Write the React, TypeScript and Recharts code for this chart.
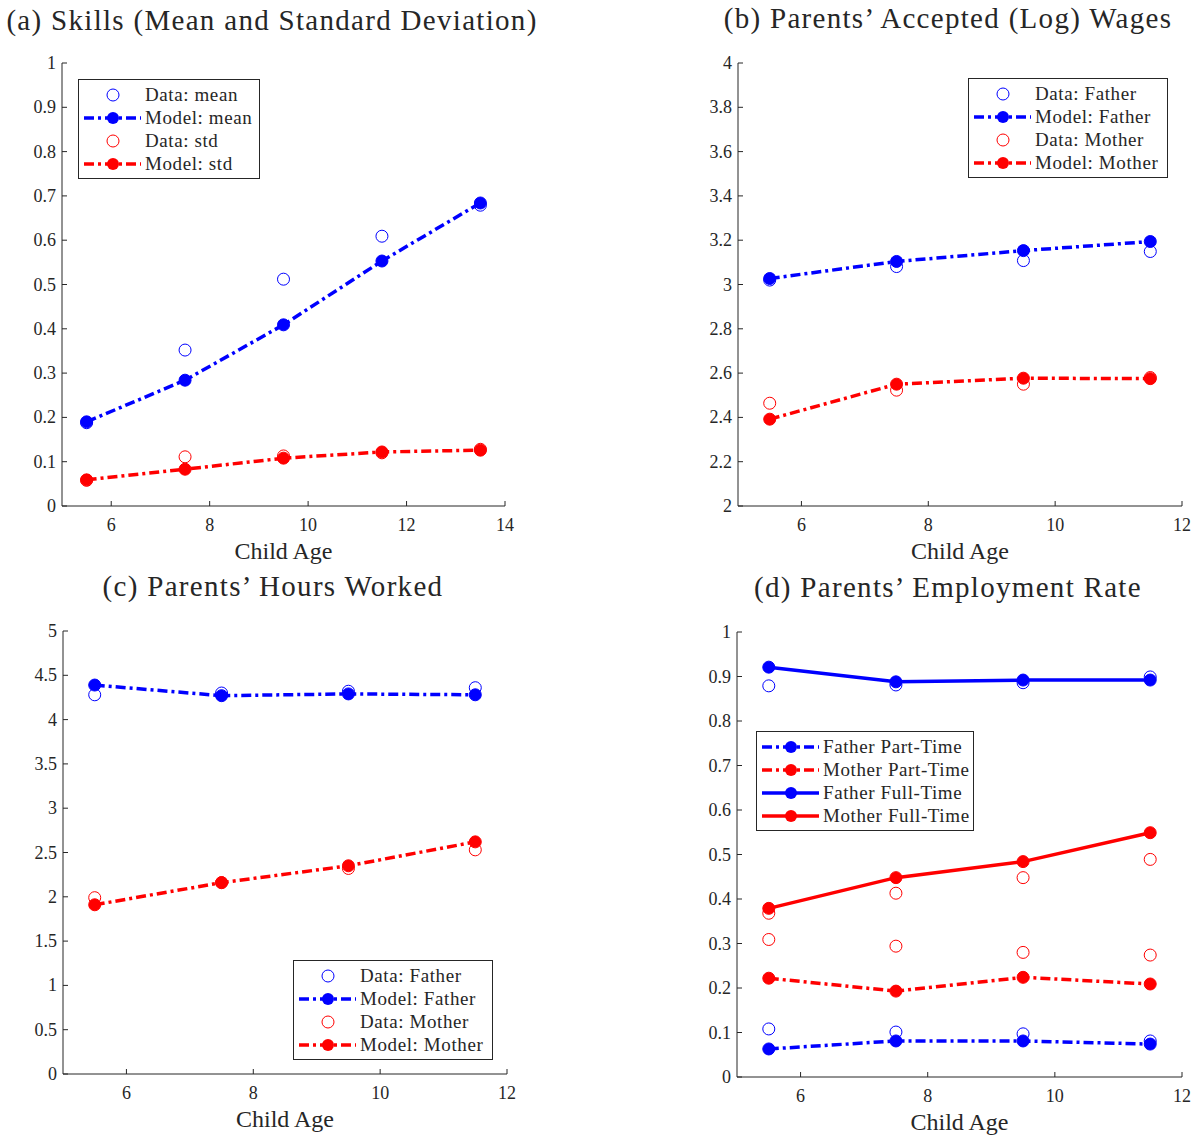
import React from "react";
import { LineChart, Line, XAxis, YAxis, Legend } from "recharts";

const FONT = "'Liberation Serif', 'Times New Roman', serif";
const AX = "#262626";
const BLUE = "#0000ff";
const RED = "#ff0000";
const DASHDOT = "10 4 3 4";

// (a) Skills
const agesA = [5.5, 7.5, 9.5, 11.5, 13.5];
const dataMeanA = [0.188, 0.352, 0.512, 0.609, 0.679];
const modelMeanA = [0.19, 0.284, 0.409, 0.553, 0.684];
const dataStdA = [0.058, 0.111, 0.113, 0.12, 0.128];
const modelStdA = [0.059, 0.083, 0.108, 0.122, 0.126];

// (b)-(d) share the child ages
const ages = [5.5, 7.5, 9.5, 11.5];

// (b) accepted log wages
const dataWageFather = [3.02, 3.081, 3.108, 3.149];
const modelWageFather = [3.027, 3.104, 3.153, 3.194];
const dataWageMother = [2.464, 2.523, 2.55, 2.58];
const modelWageMother = [2.392, 2.55, 2.577, 2.575];

// (c) hours worked
const dataHoursFather = [4.28, 4.3, 4.32, 4.36];
const modelHoursFather = [4.39, 4.27, 4.29, 4.28];
const dataHoursMother = [1.99, 2.16, 2.32, 2.53];
const modelHoursMother = [1.91, 2.16, 2.35, 2.62];

// (d) employment rates
const dataFatherPT = [0.108, 0.101, 0.097, 0.081];
const modelFatherPT = [0.063, 0.081, 0.081, 0.074];
const dataMotherPT = [0.309, 0.294, 0.28, 0.274];
const modelMotherPT = [0.222, 0.193, 0.224, 0.209];
const dataFatherFT = [0.879, 0.881, 0.886, 0.899];
const modelFatherFT = [0.921, 0.888, 0.892, 0.892];
const dataMotherFT = [0.368, 0.413, 0.448, 0.489];
const modelMotherFT = [0.379, 0.448, 0.484, 0.549];

const xTicksA = [6, 8, 10, 12, 14];
const xTicks = [6, 8, 10, 12];
const yTicksA = [0, 0.1, 0.2, 0.3, 0.4, 0.5, 0.6, 0.7, 0.8, 0.9, 1];
const yTicksB = [2, 2.2, 2.4, 2.6, 2.8, 3, 3.2, 3.4, 3.6, 3.8, 4];
const yTicksC = [0, 0.5, 1, 1.5, 2, 2.5, 3, 3.5, 4, 4.5, 5];
const yTicksD = [0, 0.1, 0.2, 0.3, 0.4, 0.5, 0.6, 0.7, 0.8, 0.9, 1];

type Series = { name: string; values: number[]; color: string; kind: "data" | "model"; dash?: string; legend?: boolean };

const LeftTick = (props: any) => {
  const { x, y, payload } = props;
  return (
    <g>
      <line x1={x} x2={x + 5} y1={y} y2={y} stroke={AX} />
      <text x={x - 6} y={y + 6} textAnchor="end" fontSize={18} fontFamily={FONT} fill={AX}>
        {String(payload.value)}
      </text>
    </g>
  );
};
const RightTick = (props: any) => {
  const { x, y } = props;
  return <line x1={x} x2={x - 5} y1={y} y2={y} stroke={AX} />;
};
const BottomTick = (props: any) => {
  const { x, y, payload } = props;
  return (
    <g>
      <line x1={x} x2={x} y1={y} y2={y - 5} stroke={AX} />
      <text x={x} y={y + 25} textAnchor="middle" fontSize={18} fontFamily={FONT} fill={AX}>
        {String(payload.value)}
      </text>
    </g>
  );
};
const TopTick = (props: any) => {
  const { x, y } = props;
  return <line x1={x} x2={x} y1={y} y2={y + 5} stroke={AX} />;
};

function LegendBox({ series, width }: { series: Series[]; width: number }) {
  const items = series.filter((s) => s.legend !== false);
  return (
    <div style={{ width, border: `1px solid ${AX}`, background: "#fff", padding: "3px 0", boxSizing: "border-box" }}>
      {items.map((s) => (
        <div key={s.name} style={{ display: "flex", alignItems: "center", height: 23 }}>
          <svg width={66} height={20} style={{ flex: "none" }}>
            {s.kind === "model" && (
              <line x1={5} x2={62} y1={10} y2={10} stroke={s.color} strokeWidth={3.5} strokeDasharray={s.dash} />
            )}
            {s.kind === "model" ? (
              <circle cx={34} cy={10} r={6} fill={s.color} />
            ) : (
              <circle cx={34} cy={10} r={6} fill="none" stroke={s.color} strokeWidth={1} />
            )}
          </svg>
          <span style={{ fontFamily: FONT, fontSize: 19, letterSpacing: 0.6, color: AX, whiteSpace: "pre" }}>{s.name}</span>
        </div>
      ))}
    </div>
  );
}

type PanelProps = {
  l: number; r: number; t: number; b: number;
  xDomain: [number, number]; xTicks: number[];
  yDomain: [number, number]; yTicks: number[];
  xs: number[]; series: Series[];
  legendAt: { x: number; y: number; w: number };
  title: string; titleX: number; titleY: number;
};

function Panel(p: PanelProps) {
  const YW = 60;
  const XH = 70;
  const left = p.l - YW;
  const top = p.t - 10;
  const width = p.r - p.l + YW + 10;
  const height = p.b - p.t + 10 + XH;
  const rows = p.xs.map((x, i) => {
    const row: Record<string, number> = { x };
    p.series.forEach((s) => (row[s.name] = s.values[i]));
    return row;
  });
  return (
    <>
      <div
        style={{
          position: "absolute", left: p.titleX - 300, top: p.titleY - 17, width: 600, textAlign: "center",
          fontFamily: FONT, fontSize: 29, color: AX, lineHeight: "34px", letterSpacing: 1.3, whiteSpace: "pre",
        }}
      >
        {p.title}
      </div>
      <div style={{ position: "absolute", left, top }}>
        <LineChart width={width} height={height} data={rows} margin={{ top: 10, right: 10, left: 0, bottom: 0 }}>
          <XAxis
            dataKey="x" type="number" domain={p.xDomain} ticks={p.xTicks} interval={0} allowDataOverflow
            height={XH} tickLine={false} tickSize={0} tickMargin={0} tick={<BottomTick />} stroke={AX}
            label={{ value: "Child Age", position: "insideBottom", offset: 17, fontSize: 24, fontFamily: FONT, fill: AX }}
          />
          <XAxis
            xAxisId="top" orientation="top" dataKey="x" type="number" domain={p.xDomain} ticks={p.xTicks}
            interval={0} allowDataOverflow height={0} tickLine={false} tickSize={0} tickMargin={0}
            tick={<TopTick />} stroke={AX}
          />
          <YAxis
            type="number" domain={p.yDomain} ticks={p.yTicks} interval={0} allowDataOverflow width={YW}
            tickLine={false} tickSize={0} tickMargin={0} tick={<LeftTick />} stroke={AX}
          />
          <YAxis
            yAxisId="right" orientation="right" type="number" domain={p.yDomain} ticks={p.yTicks} interval={0}
            allowDataOverflow width={0} tickLine={false} tickSize={0} tickMargin={0} tick={<RightTick />} stroke={AX}
          />
          {p.series.map((s) =>
            s.kind === "data" ? (
              <Line
                key={s.name} dataKey={s.name} stroke="none" isAnimationActive={false} activeDot={false}
                dot={{ r: 6, fill: "none", stroke: s.color, strokeWidth: 1 }}
              />
            ) : (
              <Line
                key={s.name} dataKey={s.name} stroke={s.color} strokeWidth={3.5} strokeDasharray={s.dash}
                isAnimationActive={false} activeDot={false}
                dot={{ r: 6, fill: s.color, stroke: s.color, strokeWidth: 1, strokeDasharray: "none" }}
              />
            )
          )}
          <Legend
            layout="horizontal" verticalAlign="middle" align="center"
            wrapperStyle={{ left: p.legendAt.x - left, top: p.legendAt.y - top, width: "auto", right: "auto", bottom: "auto" }}
            content={() => <LegendBox series={p.series} width={p.legendAt.w} />}
          />
        </LineChart>
      </div>
    </>
  );
}

export default function App() {
  return (
    <div style={{ position: "absolute", left: 0, top: 0, width: 1198, height: 1135, background: "#fff", overflow: "hidden" }}>
      <Panel
        l={62} r={505} t={63} b={506} xDomain={[5, 14]} xTicks={xTicksA} yDomain={[0, 1]} yTicks={yTicksA}
        xs={agesA} title="(a) Skills (Mean and Standard Deviation)" titleX={272} titleY={20}
        legendAt={{ x: 78, y: 79, w: 182 }}
        series={[
          { name: "Data: mean", values: dataMeanA, color: BLUE, kind: "data" },
          { name: "Model: mean", values: modelMeanA, color: BLUE, kind: "model", dash: DASHDOT },
          { name: "Data: std", values: dataStdA, color: RED, kind: "data" },
          { name: "Model: std", values: modelStdA, color: RED, kind: "model", dash: DASHDOT },
        ]}
      />
      <Panel
        l={738} r={1182} t={63} b={506} xDomain={[5, 12]} xTicks={xTicks} yDomain={[2, 4]} yTicks={yTicksB}
        xs={ages} title="(b) Parents’ Accepted (Log) Wages" titleX={948} titleY={18}
        legendAt={{ x: 968, y: 78, w: 200 }}
        series={[
          { name: "Data: Father", values: dataWageFather, color: BLUE, kind: "data" },
          { name: "Model: Father", values: modelWageFather, color: BLUE, kind: "model", dash: DASHDOT },
          { name: "Data: Mother", values: dataWageMother, color: RED, kind: "data" },
          { name: "Model: Mother", values: modelWageMother, color: RED, kind: "model", dash: DASHDOT },
        ]}
      />
      <Panel
        l={63} r={507} t={631} b={1074} xDomain={[5, 12]} xTicks={xTicks} yDomain={[0, 5]} yTicks={yTicksC}
        xs={ages} title="(c) Parents’ Hours Worked" titleX={273} titleY={586}
        legendAt={{ x: 293, y: 960, w: 200 }}
        series={[
          { name: "Data: Father", values: dataHoursFather, color: BLUE, kind: "data" },
          { name: "Model: Father", values: modelHoursFather, color: BLUE, kind: "model", dash: DASHDOT },
          { name: "Data: Mother", values: dataHoursMother, color: RED, kind: "data" },
          { name: "Model: Mother", values: modelHoursMother, color: RED, kind: "model", dash: DASHDOT },
        ]}
      />
      <Panel
        l={737} r={1182} t={632} b={1077} xDomain={[5, 12]} xTicks={xTicks} yDomain={[0, 1]} yTicks={yTicksD}
        xs={ages} title="(d) Parents’ Employment Rate" titleX={948} titleY={587}
        legendAt={{ x: 756, y: 731, w: 218 }}
        series={[
          { name: "Father PT data", values: dataFatherPT, color: BLUE, kind: "data", legend: false },
          { name: "Mother PT data", values: dataMotherPT, color: RED, kind: "data", legend: false },
          { name: "Father FT data", values: dataFatherFT, color: BLUE, kind: "data", legend: false },
          { name: "Mother FT data", values: dataMotherFT, color: RED, kind: "data", legend: false },
          { name: "Father Part-Time", values: modelFatherPT, color: BLUE, kind: "model", dash: DASHDOT },
          { name: "Mother Part-Time", values: modelMotherPT, color: RED, kind: "model", dash: DASHDOT },
          { name: "Father Full-Time", values: modelFatherFT, color: BLUE, kind: "model" },
          { name: "Mother Full-Time", values: modelMotherFT, color: RED, kind: "model" },
        ]}
      />
    </div>
  );
}
